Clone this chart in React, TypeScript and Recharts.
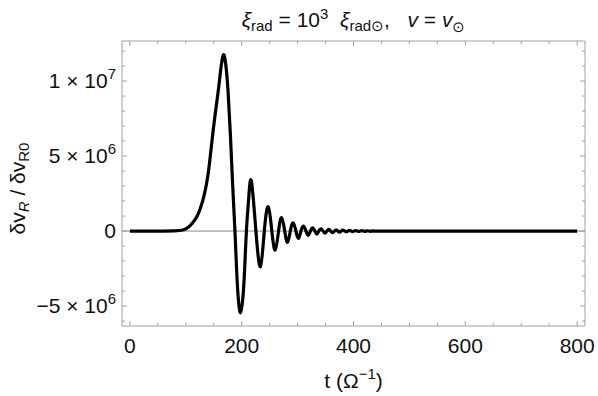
import { LineChart, Line, XAxis, YAxis, ReferenceLine, Label } from "recharts";

// time samples (Ω^-1) and response δv_R / δv_R0
const tValues = [
  0, 20, 40, 60, 80, 95, 107, 119, 126, 133, 140, 146, 152, 158, 162, 165,
  167.5, 170, 173, 176, 180, 184, 188, 191, 194, 198, 202, 205, 208.5, 213,
  217.6, 225.5, 233.5, 240.5, 247.5, 254, 260, 266, 271.5, 277, 282, 287,
  292, 297, 301.5, 306, 310.5, 315, 319, 323, 327, 331, 334.5, 338, 342,
  345.5, 349, 352.5, 356, 359, 362.5, 366, 369, 372, 375, 378, 381, 384, 387,
  390, 393, 396, 398.5, 401, 404, 407, 409.5, 412, 415, 417.5, 420, 422.5,
  425, 427.5, 430, 432.5, 435, 440, 480, 520, 560, 600, 640, 680, 720, 760,
  800,
];
const vValues = [
  0, 0, 0, 0, 0.01e6, 0.07e6, 0.33e6, 0.9e6, 1.5e6, 2.4e6, 3.8e6, 5.7e6,
  7.6e6, 9.3e6, 10.6e6, 11.4e6, 11.75e6, 11.5e6, 10.6e6, 9.1e6, 6.3e6, 3.0e6,
  0, -2.6e6, -4.5e6, -5.45e6, -4.5e6, -2.8e6, 0, 2.4e6, 3.29e6, 0, -2.38e6, 0,
  1.62e6, 0, -1.27e6, 0, 0.89e6, 0, -0.75e6, 0, 0.55e6, 0, -0.49e6, 0,
  0.33e6, 0, -0.29e6, 0, 0.22e6, 0, -0.2e6, 0, 0.15e6, 0, -0.14e6, 0, 0.11e6,
  0, -0.1e6, 0, 0.08e6, 0, -0.075e6, 0, 0.06e6, 0, -0.055e6, 0, 0.045e6, 0,
  -0.04e6, 0, 0.033e6, 0, -0.03e6, 0, 0.025e6, 0, -0.022e6, 0, 0.018e6, 0,
  -0.016e6, 0, 0.012e6, 0, 0, 0, 0, 0, 0, 0, 0, 0, 0,
];

const xMajorTicks = [0, 200, 400, 600, 800];
const xMinorTicks = [50, 100, 150, 250, 300, 350, 450, 500, 550, 650, 700, 750];
const yMajorTicks = [-5e6, 0, 5e6, 1e7];
const yMantissas = ["\u22125 \u00d7 10", "0", "5 \u00d7 10", "1 \u00d7 10"];
const yExponents = ["6", "", "6", "7"];
const yMinorTicks = [
  -6e6, -4e6, -3e6, -2e6, -1e6, 1e6, 2e6, 3e6, 4e6, 6e6, 7e6, 8e6, 9e6, 11e6,
  12e6,
];

const data = tValues.map((t, i) => ({ t, v: vValues[i] }));
const xTicks = [...xMajorTicks, ...xMinorTicks].sort((a, b) => a - b);
const yTicks = [...yMajorTicks, ...yMinorTicks].sort((a, b) => a - b);

const FONT = "'Liberation Sans', Arial, sans-serif";
const FRAME = "#a0a0a0";
const MAJOR = 5;
const MINOR = 3;
const NB = "\u00a0";

function BottomTick({ x, y, payload }: any) {
  const major = xMajorTicks.includes(payload.value);
  return (
    <g>
      <line x1={x} y1={y} x2={x} y2={y - (major ? MAJOR : MINOR)} stroke={FRAME} />
      {major && (
        <text x={x} y={y + 27} textAnchor="middle" fontSize={21} fontFamily={FONT} fill="#111">
          {payload.value}
        </text>
      )}
    </g>
  );
}

function TopTick({ x, y, payload }: any) {
  const major = xMajorTicks.includes(payload.value);
  return <line x1={x} y1={y} x2={x} y2={y + (major ? MAJOR : MINOR)} stroke={FRAME} />;
}

function LeftTick({ x, y, payload }: any) {
  const idx = yMajorTicks.indexOf(payload.value);
  const major = idx >= 0;
  return (
    <g>
      <line x1={x} y1={y} x2={x + (major ? MAJOR : MINOR)} y2={y} stroke={FRAME} />
      {major && (
        <text x={x - 6} y={y + 7} textAnchor="end" fontSize={21} fontFamily={FONT} fill="#111">
          {yMantissas[idx]}
          {yExponents[idx] && (
            <tspan dy={-9} fontSize={15}>
              {yExponents[idx]}
            </tspan>
          )}
        </text>
      )}
    </g>
  );
}

function RightTick({ x, y, payload }: any) {
  const major = yMajorTicks.includes(payload.value);
  return <line x1={x} y1={y} x2={x - (major ? MAJOR : MINOR)} y2={y} stroke={FRAME} />;
}

function TitleLabel({ viewBox }: any) {
  const cx = viewBox.x + viewBox.width / 2;
  return (
    <text x={cx} y={27} textAnchor="middle" fontSize={21} fontFamily={FONT} fill="#111">
      <tspan fontStyle="italic">ξ</tspan>
      <tspan fontSize={15} dy={4}>rad</tspan>
      <tspan dy={-4}>{` = 10`}</tspan>
      <tspan fontSize={15} dy={-8}>3</tspan>
      <tspan dy={8} fontStyle="italic">{`${NB}${NB}ξ`}</tspan>
      <tspan fontSize={15} dy={4}>rad⊙</tspan>
      <tspan dy={-4}>{`,${NB}${NB}${NB}`}</tspan>
      <tspan fontStyle="italic">v</tspan>
      <tspan>{` = `}</tspan>
      <tspan fontStyle="italic">v</tspan>
      <tspan fontSize={15} dy={5}>⊙</tspan>
    </text>
  );
}

function XAxisLabel({ viewBox }: any) {
  const cx = viewBox.x + viewBox.width / 2;
  return (
    <text x={cx} y={388} textAnchor="middle" fontSize={21} fontFamily={FONT} fill="#111">
      t (Ω<tspan fontSize={15} dy={-9}>−1</tspan>
      <tspan dy={9}>)</tspan>
    </text>
  );
}

function YAxisLabel({ viewBox }: any) {
  const cy = viewBox.y + viewBox.height / 2 + 5;
  const cx = 18;
  return (
    <text
      x={cx}
      y={cy}
      dy={7}
      textAnchor="middle"
      fontSize={21}
      fontFamily={FONT}
      fill="#111"
      transform={`rotate(-90, ${cx}, ${cy})`}
    >
      δv
      <tspan fontSize={15} dy={4} fontStyle="italic">R</tspan>
      <tspan dy={-4}> / δv</tspan>
      <tspan fontSize={15} dy={4}>R0</tspan>
    </text>
  );
}

export default function App() {
  return (
    <div style={{ position: "absolute", left: 0, top: 0, background: "#fff" }}>
      <LineChart
        width={598}
        height={396}
        data={data}
        margin={{ top: 40, right: 12, bottom: 0, left: 0 }}
      >
        <XAxis
          xAxisId="bottom"
          dataKey="t"
          type="number"
          domain={[-14, 814]}
          ticks={xTicks}
          interval={0}
          height={70}
          tickSize={0}
          tickMargin={0}
          tickLine={false}
          axisLine={{ stroke: FRAME }}
          tick={<BottomTick />}
          allowDataOverflow
        >
          <Label content={<XAxisLabel />} />
        </XAxis>
        <XAxis
          xAxisId="top"
          orientation="top"
          dataKey="t"
          type="number"
          domain={[-14, 814]}
          ticks={xTicks}
          interval={0}
          height={1}
          tickSize={0}
          tickMargin={0}
          tickLine={false}
          axisLine={{ stroke: FRAME }}
          tick={<TopTick />}
          allowDataOverflow
        >
          <Label content={<TitleLabel />} />
        </XAxis>
        <YAxis
          yAxisId="left"
          type="number"
          domain={[-6.33e6, 1.267e7]}
          ticks={yTicks}
          interval={0}
          width={122}
          tickSize={0}
          tickMargin={0}
          tickLine={false}
          axisLine={{ stroke: FRAME }}
          tick={<LeftTick />}
          allowDataOverflow
        >
          <Label content={<YAxisLabel />} />
        </YAxis>
        <YAxis
          yAxisId="right"
          orientation="right"
          type="number"
          domain={[-6.33e6, 1.267e7]}
          ticks={yTicks}
          interval={0}
          width={1}
          tickSize={0}
          tickMargin={0}
          tickLine={false}
          axisLine={{ stroke: FRAME }}
          tick={<RightTick />}
          allowDataOverflow
        />
        <ReferenceLine xAxisId="bottom" yAxisId="left" y={0} stroke="#8a8a8a" strokeWidth={1} />
        <Line
          xAxisId="bottom"
          yAxisId="left"
          dataKey="v"
          type="natural"
          stroke="#000"
          strokeWidth={3.2}
          dot={false}
          isAnimationActive={false}
        />
      </LineChart>
    </div>
  );
}
